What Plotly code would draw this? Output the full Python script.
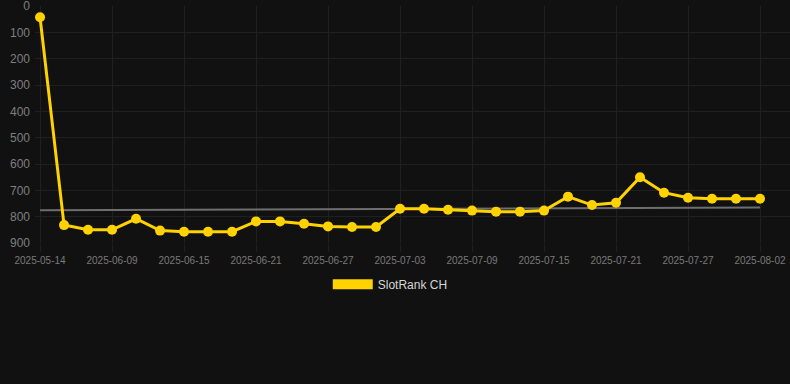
import plotly.graph_objects as go
from datetime import date, timedelta

# ---- data ----
first_date = ["2025-05-14"]
later_dates = [(date(2025, 6, 5) + timedelta(days=2 * i)).isoformat() for i in range(30)]
dates = first_date + later_dates

ranks = [43, 832, 850, 850, 808, 853, 857, 857, 857, 818,
         818, 827, 837, 839, 839, 770, 770, 774, 777, 781,
         781, 777, 724, 756, 747, 650, 709, 728, 732, 732, 732]

trend_dates = [dates[0], dates[-1]]
trend_values = [776, 765]

tick_labels = dates[::3]
y_ticks = [0, 100, 200, 300, 400, 500, 600, 700, 800, 900]
series_name = "SlotRank CH"

# ---- styles ----
GOLD = "#FFD200"
BG = "#111111"
GRID = "#202020"
FONT = "Liberation Sans, Arial, sans-serif"

fig = go.Figure()

fig.add_trace(go.Scatter(
    x=trend_dates, y=trend_values, mode="lines",
    line=dict(color="#6e6e6e", width=2), showlegend=False, hoverinfo="skip",
))

fig.add_trace(go.Scatter(
    x=dates, y=ranks, mode="lines+markers",
    line=dict(color=GOLD, width=3),
    marker=dict(color=GOLD, size=10),
    showlegend=False, name=series_name,
))

# legend entry (filled rectangle look)
fig.add_trace(go.Scatter(
    x=[None], y=[None], mode="lines",
    line=dict(color=GOLD, width=12), name=series_name, showlegend=True,
))

fig.update_layout(
    width=790, height=384,
    paper_bgcolor=BG, plot_bgcolor=BG,
    margin=dict(l=35, r=0, t=6, b=141),
    font=dict(family=FONT, color="#8a8a8a"),
    showlegend=True,
    legend=dict(
        orientation="h", xref="container", yref="container",
        x=0.494, y=0.26, xanchor="center", yanchor="middle",
        font=dict(family=FONT, size=12, color="#d6d6d6"),
        bgcolor="rgba(0,0,0,0)", itemwidth=40,
    ),
)

fig.update_xaxes(
    type="category", categoryorder="array", categoryarray=dates,
    range=[-0.21, 31.25],
    tickmode="array", tickvals=tick_labels, ticktext=tick_labels,
    showgrid=True, gridcolor=GRID, gridwidth=1,
    ticks="outside", ticklen=8, tickcolor=GRID,
    tickfont=dict(size=10, color="#7a7a7a"),
    zeroline=False, showline=False, ticklabeloverflow="allow",
)

fig.update_yaxes(
    range=[900, 0], tickmode="array", tickvals=y_ticks,
    showgrid=True, gridcolor=GRID, gridwidth=1,
    ticks="", tickfont=dict(size=12, color="#7f7f7f"),
    zeroline=False, showline=False, ticklabelstandoff=4,
    ticklabeloverflow="allow",
)

fig.write_html(
    "out.html",
    config={"displayModeBar": False},
    post_script="document.body.style.margin='0';document.body.style.background='#111111';",
)
